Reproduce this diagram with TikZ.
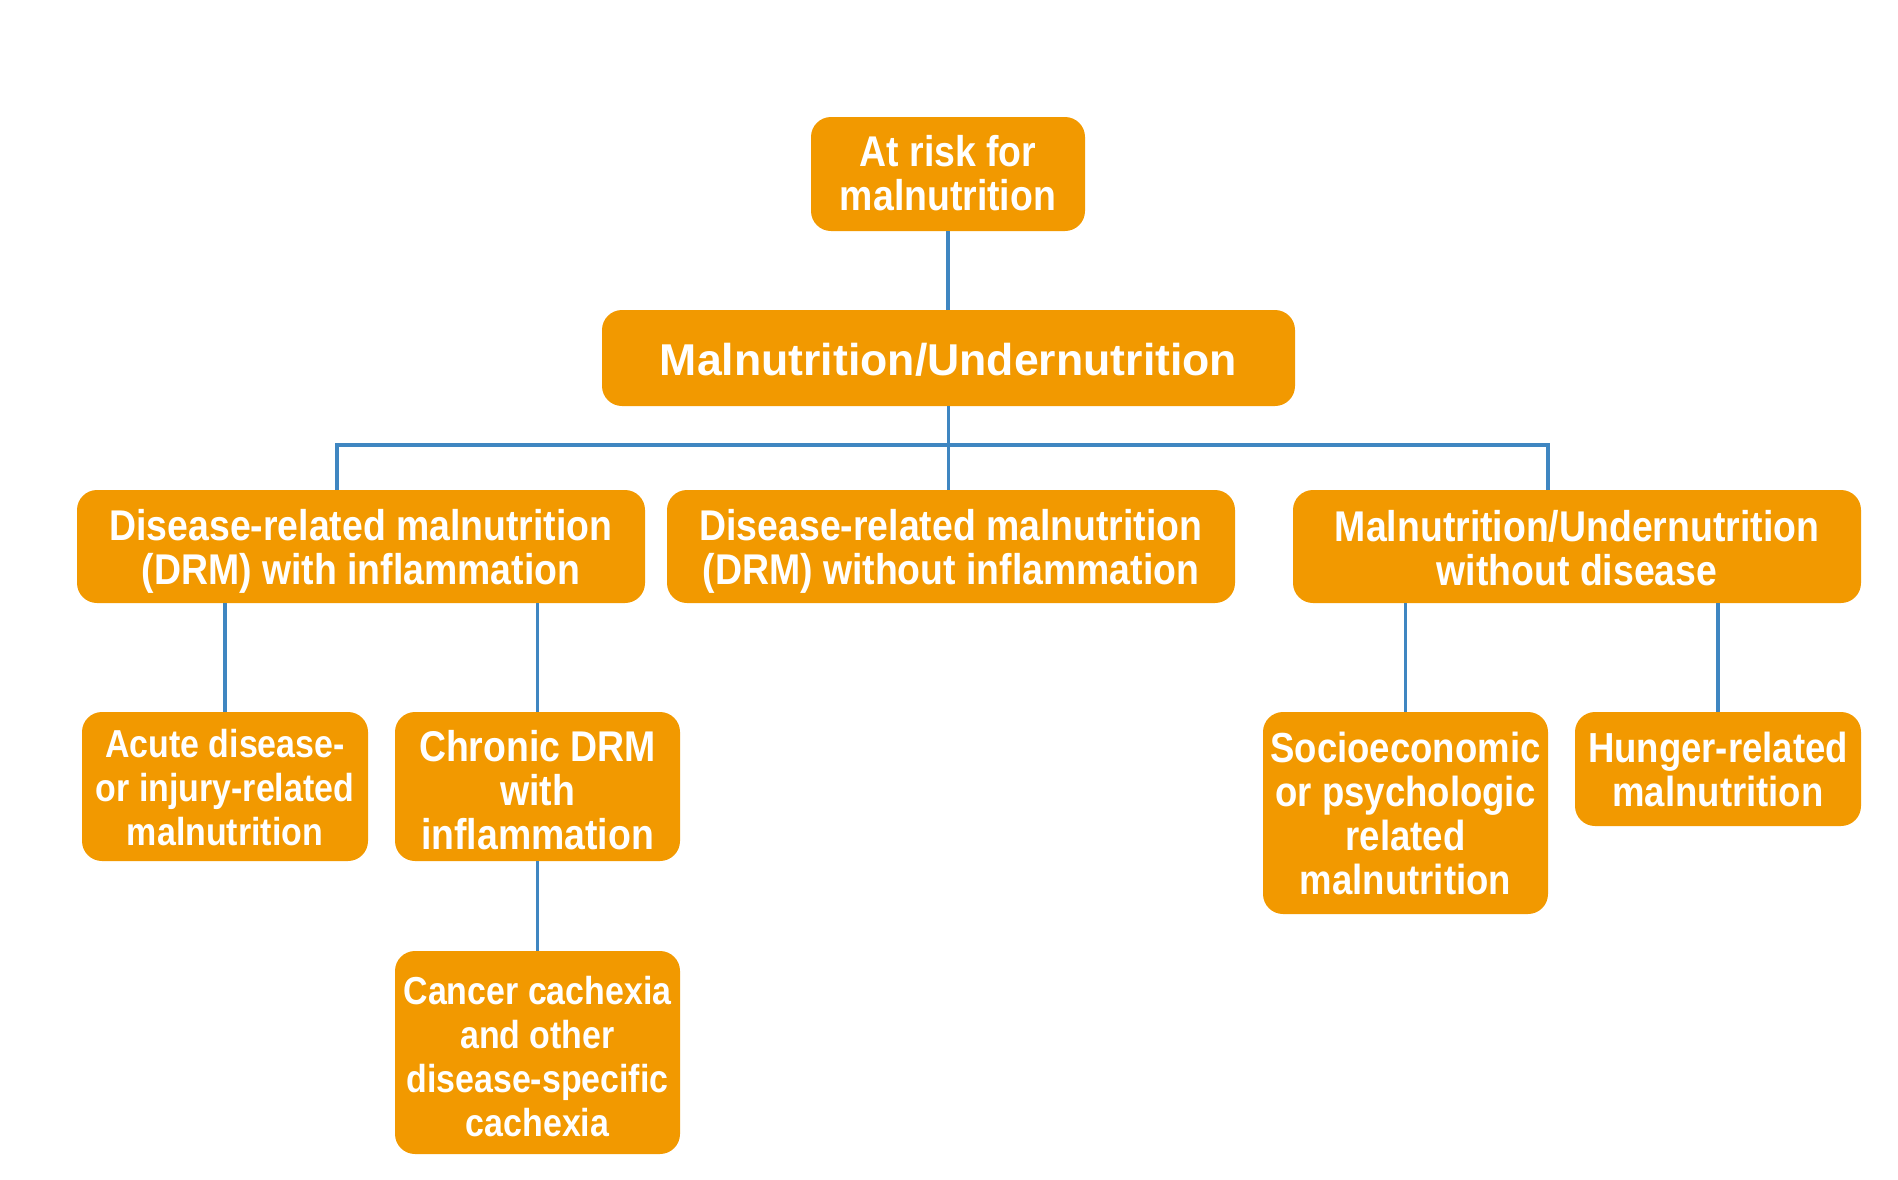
\documentclass[tikz,border=0pt]{standalone}
\usepackage{fontspec}
\setmainfont{Liberation Sans}
\newfontfamily\condf[FakeStretch=0.87]{Liberation Sans}
\definecolor{boxorange}{HTML}{F29900}
\definecolor{linkblue}{HTML}{3F86C1}
\tikzset{
  box/.style={rectangle, rounded corners=20pt, fill=boxorange, inner sep=0pt},
  txt/.style={text=white, align=center, inner sep=0pt},
  bigtxt/.style={txt, font=\condf\bfseries\fontsize{43}{44}\selectfont},
  smalltxt/.style={txt, font=\condf\bfseries\fontsize{39}{44}\selectfont},
  midtxt/.style={txt, font=\condf\bfseries\fontsize{42}{44}\selectfont},
  conn/.style={draw=linkblue, line width=3.5pt}
}
\begin{document}
\begin{tikzpicture}[x=1pt,y=-1pt]
\useasboundingbox (0,0) rectangle (1898,1179);
% boxes
\node[box, minimum width=274pt, minimum height=114pt] (risk) at (948,174) {};
\node[box, minimum width=693pt, minimum height=96pt] (main) at (948.5,358) {};
\node[box, minimum width=568pt, minimum height=113pt] (d1) at (361,546.5) {};
\node[box, minimum width=568pt, minimum height=113pt] (d2) at (951,546.5) {};
\node[box, minimum width=568pt, minimum height=113pt] (d3) at (1577,546.5) {};
\node[box, minimum width=286pt, minimum height=149pt] (acute) at (225,786.5) {};
\node[box, minimum width=285pt, minimum height=149pt] (chronic) at (537.5,786.5) {};
\node[box, minimum width=285pt, minimum height=203pt] (cancer) at (537.5,1052.5) {};
\node[box, minimum width=285pt, minimum height=202pt] (socio) at (1405.5,813) {};
\node[box, minimum width=286pt, minimum height=114pt] (hunger) at (1718,769) {};
% texts
\node[bigtxt, yshift=1pt] (risk-t) at (risk) {At risk for\\malnutrition};
\node[txt, font=\bfseries\fontsize{44.6}{48}\selectfont, yshift=-2pt] (main-t) at (main) {Malnutrition/Undernutrition};
\node[bigtxt, yshift=-5pt] (d1-t) at (d1) {Disease-related malnutrition\\(DRM) with inflammation};
\node[bigtxt, yshift=-5pt] (d2-t) at (d2) {Disease-related malnutrition\\(DRM) without inflammation};
\node[bigtxt, yshift=-2pt] (d3-t) at (d3) {Malnutrition/Undernutrition\\without disease};
\node[smalltxt, yshift=-1pt] (acute-t) at (acute) {Acute disease-\\or injury-related\\malnutrition};
\node[bigtxt, yshift=-4pt] (chronic-t) at (chronic) {Chronic DRM\\with\\inflammation};
\node[smalltxt, yshift=-4pt] (cancer-t) at (cancer) {Cancer cachexia\\and other\\disease-specific\\cachexia};
\node[midtxt] (socio-t) at (socio) {Socioeconomic\\or psychologic\\related\\malnutrition};
\node[midtxt] (hunger-t) at (hunger) {Hunger-related\\malnutrition};
% connectors
\coordinate (busL) at (337,445);
\coordinate (busR) at (1548,445);
\draw[conn] (risk.south) -- (risk.south |- main.north);
\draw[conn] (main.south) -- (main.south |- d2.north);
\draw[conn] (d1.north -| busL) -- (busL) -- (busR) -- (d3.north -| busR);
\draw[conn] (acute.north) -- (acute.north |- d1.south);
\draw[conn] (chronic.north) -- (chronic.north |- d1.south);
\draw[conn] (chronic.south) -- (cancer.north);
\draw[conn] (socio.north) -- (socio.north |- d3.south);
\draw[conn] (hunger.north) -- (hunger.north |- d3.south);
\end{tikzpicture}
\end{document}
